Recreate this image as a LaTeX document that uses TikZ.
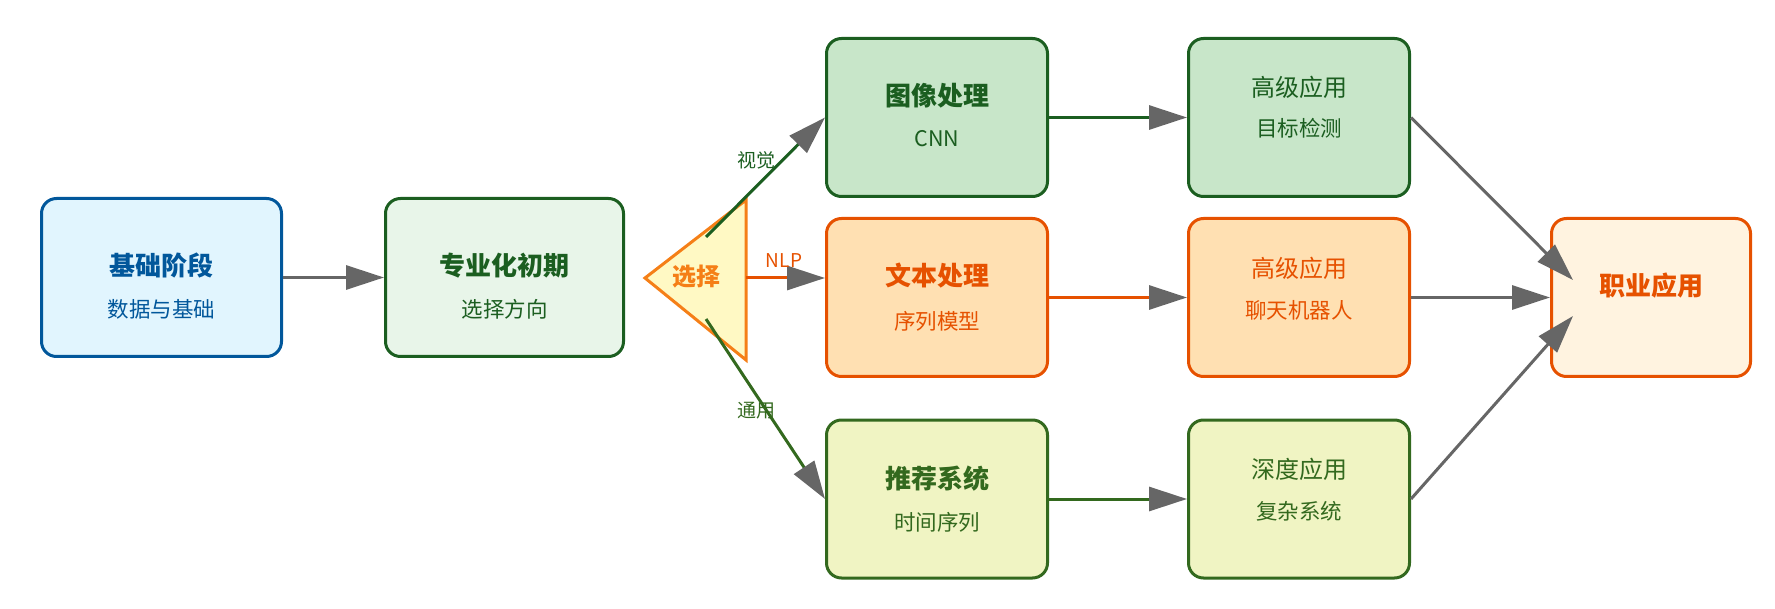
\documentclass[tikz,border=0pt]{standalone}
\usepackage{fontspec}
\setmainfont{Noto Sans CJK SC}
\usetikzlibrary{arrows.meta,calc}
\definecolor{blueB}{HTML}{01579B}\definecolor{blueF}{HTML}{E1F5FE}
\definecolor{grnB}{HTML}{1B5E20}\definecolor{grnF}{HTML}{E8F5E9}
\definecolor{grnF2}{HTML}{C8E6C9}
\definecolor{orB}{HTML}{E65100}\definecolor{orF}{HTML}{FFE0B2}
\definecolor{orF2}{HTML}{FFF3E0}
\definecolor{olB}{HTML}{33691E}\definecolor{olF}{HTML}{F0F4C3}
\definecolor{yelB}{HTML}{F57F17}\definecolor{yelF}{HTML}{FFF9C4}
\definecolor{arrowgray}{HTML}{666666}
\tikzset{
  box/.style={draw, line width=3pt, rounded corners=15pt, minimum height=158pt},
  ttl/.style={font=\fontsize{26}{30}\selectfont\bfseries, text height=1.45em, text depth=0pt, inner sep=0pt},
  ttlr/.style={font=\fontsize{24}{28}\selectfont, text height=1.45em, text depth=0pt, inner sep=0pt},
  sub/.style={font=\fontsize{21.5}{26}\selectfont, text height=1.45em, text depth=0pt, inner sep=0pt},
  lbl/.style={font=\fontsize{19}{22}\selectfont, inner sep=0pt},
  conn/.style={line width=3pt, -{Triangle[length=38pt,width=24pt,color=arrowgray]}},
}
\begin{document}
\begin{tikzpicture}[x=1pt,y=-1pt]
\useasboundingbox (0,0) rectangle (1775,609);
% boxes
\node[box, draw=blueB, fill=blueF, minimum width=240pt] (A) at (161.5,277.5) {};
\node[box, draw=grnB, fill=grnF, minimum width=238pt] (B) at (504.5,277.5) {};
\node[box, draw=grnB, fill=grnF2, minimum width=221pt] (C) at (937,117.5) {};
\node[box, draw=orB, fill=orF, minimum width=221pt] (D) at (937,297.5) {};
\node[box, draw=olB, fill=olF, minimum width=221pt] (E) at (937,499) {};
\node[box, draw=grnB, fill=grnF2, minimum width=221pt] (F) at (1299,117.5) {};
\node[box, draw=orB, fill=orF, minimum width=221pt] (G) at (1299,297.5) {};
\node[box, draw=olB, fill=olF, minimum width=221pt] (H) at (1299,499) {};
\node[box, draw=orB, fill=orF2, minimum width=199pt] (I) at (1651,297.5) {};
% texts
\node[ttl, text=blueB] (At) at ($(A.center)+(0,-9)$) {基础阶段};
\node[sub, text=blueB] (As) at ($(A.center)+(0,33)$) {数据与基础};
\node[ttl, text=grnB] (Bt) at ($(B.center)+(0,-9)$) {专业化初期};
\node[sub, text=grnB] (Bs) at ($(B.center)+(0,33)$) {选择方向};
\node[ttl, text=grnB] (Ct) at ($(C.center)+(0,-19.5)$) {图像处理};
\node[sub, text=grnB] (Cs) at ($(C.center)+(0,21.5)$) {CNN};
\node[ttl, text=orB] (Dt) at ($(D.center)+(0,-19.5)$) {文本处理};
\node[sub, text=orB] (Ds) at ($(D.center)+(0,24.5)$) {序列模型};
\node[ttl, text=olB] (Et) at ($(E.center)+(0,-18)$) {推荐系统};
\node[sub, text=olB] (Es) at ($(E.center)+(0,24)$) {时间序列};
\node[ttlr, text=grnB] (Ft) at ($(F.center)+(0,-28.5)$) {高级应用};
\node[sub, text=grnB] (Fs) at ($(F.center)+(0,11.5)$) {目标检测};
\node[ttlr, text=orB] (Gt) at ($(G.center)+(0,-27.5)$) {高级应用};
\node[sub, text=orB] (Gs) at ($(G.center)+(0,13.5)$) {聊天机器人};
\node[ttlr, text=olB] (Ht) at ($(H.center)+(0,-28)$) {深度应用};
\node[sub, text=olB] (Hs) at ($(H.center)+(0,13)$) {复杂系统};
\node[ttl, text=orB] (It) at ($(I.center)+(0,-9.5)$) {职业应用};
% selection triangle
\coordinate (tapex) at (645,278);
\coordinate (ttop) at (746,200);
\coordinate (tbot) at (746,360);
\draw[line width=3pt, draw=yelB, fill=yelF, line join=miter] (tapex) -- (ttop) -- (tbot) -- cycle;
\node[ttl, font=\fontsize{24}{28}\selectfont\bfseries, text=yelB] (sel) at (696,278) {选择};
\coordinate (selU) at (706,237);
\coordinate (selR) at (746,278);
\coordinate (selD) at (706,319);
\coordinate (Iup) at (1573,280);
\coordinate (Idn) at (1573,316);
% connectors
\draw[conn, draw=arrowgray] (A.east) -- (B.west);
\draw[conn, draw=grnB] (selU) -- (C.west);
\draw[conn, draw=orB] (selR) -- (D.west |- selR);
\draw[conn, draw=olB] (selD) -- (E.west);
\draw[conn, draw=grnB] (C.east) -- (F.west);
\draw[conn, draw=orB] (D.east) -- (G.west);
\draw[conn, draw=olB] (E.east) -- (H.west);
\draw[conn, draw=arrowgray] (F.east) -- (Iup);
\draw[conn, draw=arrowgray] (G.east) -- (I.west);
\draw[conn, draw=arrowgray] (H.east) -- (Idn);
% labels
\node[lbl, text=grnB] (l1) at (756,160) {视觉};
\node[lbl, text=orB] (l2) at (784,261) {NLP};
\node[lbl, text=olB] (l3) at (756,411) {通用};
\end{tikzpicture}
\end{document}
